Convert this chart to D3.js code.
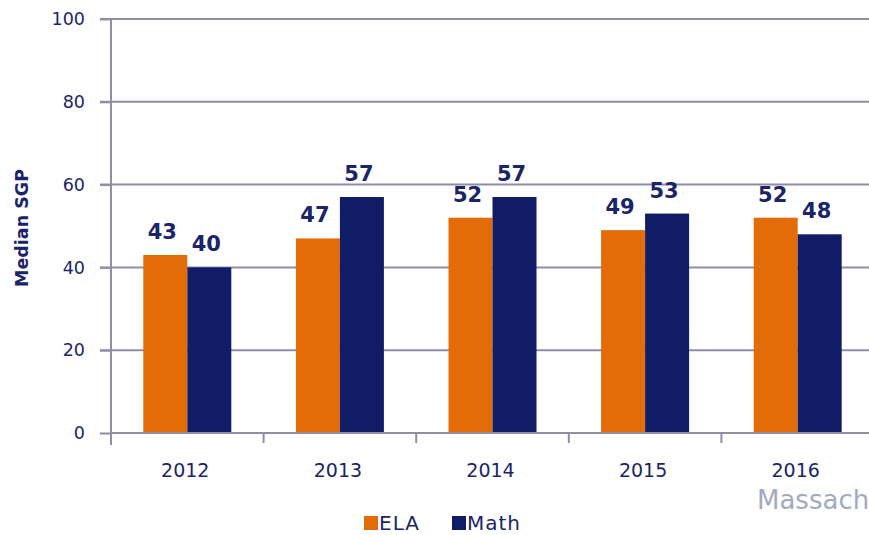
<!DOCTYPE html>
<html lang="en">
<head>
    <meta charset="UTF-8">
    <title>Median SGP</title>
    <script src="https://cdn.jsdelivr.net/npm/d3@7/dist/d3.min.js"></script>
    <style>
        body { margin: 0; background: #fff; }
        svg { display: block; font-family: "DejaVu Sans", Verdana, sans-serif; }
    </style>
</head>
<body>
<script>
    // data
    var years = ["2012", "2013", "2014", "2015", "2016"];
    var series = ["ELA", "Math"];
    var ela = [43, 47, 52, 49, 52];
    var math = [40, 57, 57, 53, 48];
    var yTicks = [0, 20, 40, 60, 80, 100];

    var colors = {ELA: "#e36c09", Math: "#101c66"};
    var textColor = "#1b2468";
    var gridColor = "#8e8ea6";

    var width = 869, height = 535;
    var plotL = 111, plotR = 874, plotT = 19, plotB = 433;

    var svg = d3.select("body").append("svg")
        .attr("width", width)
        .attr("height", height);

    var x = d3.scaleBand().domain(years).range([plotL, plotR]).padding(0);
    var y = d3.scaleLinear().domain([0, 100]).range([plotB, plotT]);
    var groupW = 88;
    var xs = d3.scaleBand().domain(series).range([0, groupW]).padding(0);

    // gridlines
    svg.append("g")
        .selectAll("line")
        .data(yTicks.slice(1))
        .enter().append("line")
        .attr("x1", plotL - 11).attr("x2", width)
        .attr("y1", function (d) { return y(d); })
        .attr("y2", function (d) { return y(d); })
        .attr("stroke", gridColor)
        .attr("stroke-width", 2);

    // y axis
    var yAxis = svg.append("g")
        .attr("transform", "translate(" + plotL + ",0)")
        .call(d3.axisLeft(y).tickValues(yTicks).tickSize(11).tickPadding(15));
    yAxis.select(".domain").remove();
    yAxis.selectAll("line").attr("stroke", gridColor).attr("stroke-width", 2);
    yAxis.selectAll("text")
        .attr("fill", textColor)
        .style("font-size", "17.5px")
        .style("font-family", "DejaVu Sans, sans-serif");

    svg.append("line")
        .attr("x1", plotL).attr("x2", plotL)
        .attr("y1", plotT).attr("y2", plotB + 12)
        .attr("stroke", gridColor).attr("stroke-width", 2);

    // bars
    var rows = years.map(function (yr, i) {
        return {year: yr, vals: [{k: "ELA", v: ela[i]}, {k: "Math", v: math[i]}]};
    });
    var off = (x.bandwidth() - groupW) / 2;

    var groups = svg.append("g").selectAll("g")
        .data(rows)
        .enter().append("g")
        .attr("transform", function (d) { return "translate(" + (x(d.year) + off) + ",0)"; });

    groups.selectAll("rect")
        .data(function (d) { return d.vals; })
        .enter().append("rect")
        .attr("x", function (d) { return xs(d.k); })
        .attr("width", xs.bandwidth())
        .attr("y", function (d) { return y(d.v); })
        .attr("height", function (d) { return plotB - y(d.v); })
        .attr("fill", function (d) { return colors[d.k]; });

    groups.selectAll("text")
        .data(function (d) { return d.vals; })
        .enter().append("text")
        .attr("x", function (d) { return xs(d.k) + xs.bandwidth() / 2 - 3; })
        .attr("y", function (d) { return y(d.v) - 16; })
        .attr("text-anchor", "middle")
        .attr("fill", textColor)
        .style("font-size", "21px")
        .style("font-weight", "bold")
        .text(function (d) { return d.v; });

    // baseline + x ticks
    svg.append("line")
        .attr("x1", plotL).attr("x2", width)
        .attr("y1", plotB).attr("y2", plotB)
        .attr("stroke", gridColor).attr("stroke-width", 2);
    svg.append("g").selectAll("line")
        .data(years.slice(1))
        .enter().append("line")
        .attr("x1", function (d) { return x(d); })
        .attr("x2", function (d) { return x(d); })
        .attr("y1", plotB).attr("y2", plotB + 10)
        .attr("stroke", gridColor).attr("stroke-width", 2);

    svg.append("g").selectAll("text")
        .data(years)
        .enter().append("text")
        .attr("x", function (d) { return x(d) + x.bandwidth() / 2 - 2; })
        .attr("y", 477)
        .attr("text-anchor", "middle")
        .attr("fill", textColor)
        .style("font-size", "19px")
        .text(function (d) { return d; });

    // y title
    svg.append("text")
        .attr("transform", "translate(28,228) rotate(-90)")
        .attr("text-anchor", "middle")
        .attr("fill", textColor)
        .style("font-size", "17.5px")
        .style("font-weight", "bold")
        .text("Median SGP");

    // watermark text, cut short the way the picture shows it
    svg.append("text")
        .attr("x", 757).attr("y", 509)
        .attr("fill", "#a2a9c2")
        .style("font-size", "26px")
        .text("Massach");

    // legend
    var legendX = [364, 452];
    var legend = svg.append("g").selectAll("g")
        .data(series)
        .enter().append("g")
        .attr("transform", function (d, i) { return "translate(" + legendX[i] + ",516)"; });
    legend.append("rect")
        .attr("width", 14).attr("height", 14)
        .attr("fill", function (d) { return colors[d]; });
    legend.append("text")
        .attr("x", 15).attr("y", 14)
        .attr("fill", textColor)
        .style("font-size", "20px")
        .style("letter-spacing", "1px")
        .text(function (d) { return d; });
</script>
</body>
</html>
